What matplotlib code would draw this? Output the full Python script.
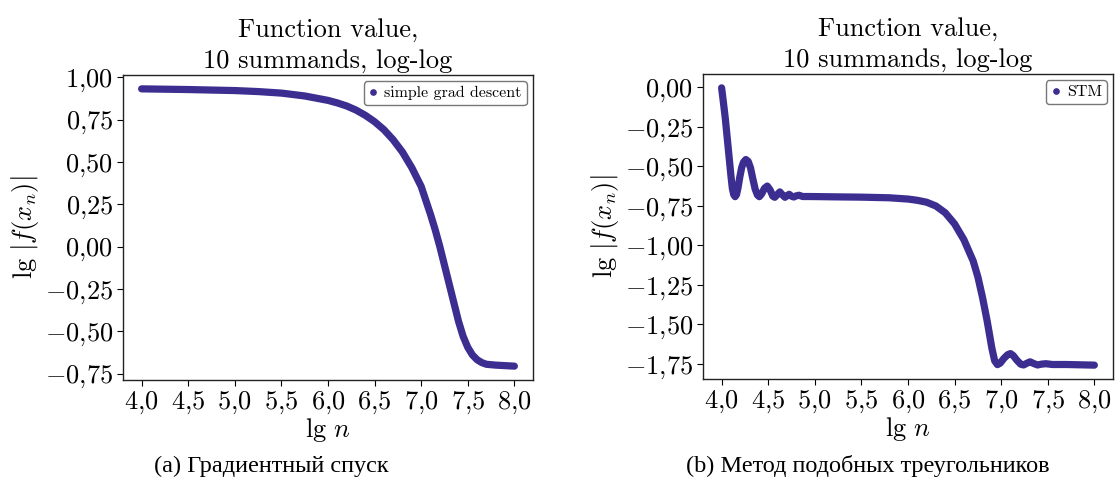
import numpy as np
import matplotlib
matplotlib.use("Agg")
import matplotlib.pyplot as plt
from matplotlib.lines import Line2D
from matplotlib.ticker import FuncFormatter

plt.rcParams['mathtext.fontset'] = 'cm'
plt.rcParams['font.family'] = ['cmr10', 'DejaVu Serif']
plt.rcParams['axes.formatter.use_mathtext'] = True

# gradient descent: lg n vs lg |f(x_n)|
gd_lgn = [4.00, 4.50, 5.00, 5.25, 5.50, 5.75, 6.00, 6.10, 6.20, 6.30, 6.40,
          6.50, 6.60, 6.70, 6.80, 6.90, 7.00, 7.10, 7.15, 7.20, 7.25, 7.30,
          7.35, 7.40, 7.45, 7.50, 7.55, 7.60, 7.65, 7.70, 7.80, 7.90, 8.00]
gd_lgf = [0.931, 0.927, 0.921, 0.915, 0.906, 0.889, 0.863, 0.848, 0.830, 0.806, 0.775,
          0.737, 0.690, 0.630, 0.557, 0.465, 0.355, 0.190, 0.100, 0.000, -0.110, -0.220,
          -0.330, -0.440, -0.530, -0.595, -0.640, -0.668, -0.685, -0.695, -0.700, -0.703, -0.706]

# similar triangles method (STM)
stm_lgn = [4.000, 4.020, 4.040, 4.060, 4.080, 4.100, 4.115, 4.130, 4.145, 4.160,
           4.175, 4.195, 4.215, 4.235, 4.260, 4.285, 4.310, 4.335, 4.360, 4.385,
           4.405, 4.430, 4.460, 4.490, 4.520, 4.550, 4.570, 4.600, 4.625, 4.650,
           4.680, 4.705, 4.725, 4.750, 4.775, 4.800, 4.830, 4.870, 4.950, 5.20,
           5.50, 5.80, 6.00, 6.10, 6.20, 6.30, 6.40, 6.50, 6.60, 6.70, 6.75,
           6.80, 6.85, 6.90, 6.93, 6.96, 6.99, 7.03, 7.07, 7.10, 7.13, 7.17,
           7.21, 7.24, 7.28, 7.31, 7.35, 7.39, 7.43, 7.48, 7.55, 7.70, 8.00]
stm_lgf = [-0.005, -0.100, -0.200, -0.320, -0.440, -0.560, -0.640, -0.680, -0.693, -0.680,
           -0.640, -0.570, -0.510, -0.475, -0.458, -0.470, -0.510, -0.580, -0.645, -0.683,
           -0.693, -0.675, -0.640, -0.626, -0.650, -0.690, -0.697, -0.678, -0.663, -0.680,
           -0.697, -0.686, -0.678, -0.690, -0.695, -0.688, -0.684, -0.692, -0.692, -0.694,
           -0.696, -0.700, -0.708, -0.716, -0.728, -0.752, -0.795, -0.865, -0.965, -1.100, -1.200,
           -1.330, -1.480, -1.650, -1.730, -1.755, -1.745, -1.715, -1.692, -1.685, -1.698, -1.728,
           -1.752, -1.757, -1.745, -1.737, -1.748, -1.757, -1.752, -1.749, -1.754, -1.754, -1.758]

color = '#3b2e90'
title = 'Function value,\n10 summands, log-log'


def comma_fmt(v, pos):
    return '$' + ('%.1f' % v).replace('.', '{,}') + '$'


def comma_fmt2(v, pos):
    return '$' + ('%.2f' % v).replace('.', '{,}') + '$'


fig = plt.figure(figsize=(11.16, 4.82), dpi=100)
ax1 = fig.add_axes([0.1102, 0.2116, 0.3674, 0.6328])
ax2 = fig.add_axes([0.6299, 0.2137, 0.3674, 0.6328])

panels = [
    (ax1, gd_lgn, gd_lgf, 'simple grad descent', [1.0, 0.75, 0.5, 0.25, 0.0, -0.25, -0.5, -0.75]),
    (ax2, stm_lgn, stm_lgf, 'STM', [0.0, -0.25, -0.5, -0.75, -1.0, -1.25, -1.5, -1.75]),
]

for ax, xs, ys, lab, yt in panels:
    ax.plot(xs, ys, '-', color=color, lw=5.2, solid_capstyle='round',
            solid_joinstyle='round')
    ax.set_xticks([4.0, 4.5, 5.0, 5.5, 6.0, 6.5, 7.0, 7.5, 8.0])
    ax.set_yticks(yt)
    ax.xaxis.set_major_formatter(FuncFormatter(comma_fmt))
    ax.yaxis.set_major_formatter(FuncFormatter(comma_fmt2))
    ax.tick_params(labelsize=19, length=4, width=0.8, direction='out', pad=3)
    ax.set_title(title, fontsize=19, pad=5, linespacing=1.4)
    ax.set_xlabel(r'$\lg\, n$', fontsize=19, labelpad=0)
    ax.set_ylabel(r'$\lg\,\left|f(x_n)\right|$', fontsize=19, labelpad=3)
    for s in ax.spines.values():
        s.set_linewidth(1.0)
        s.set_color('#222222')
    handle = Line2D([], [], marker='o', ls='', color=color, markersize=3.8)
    ax.legend([handle], [lab], loc='upper right', fontsize=11.5,
              handlelength=0.6, handletextpad=0.4, borderpad=0.3,
              fancybox=True, edgecolor='#777777', framealpha=1.0,
              borderaxespad=0.4)

fig.text(0.243, 0.02, '(a) Градиентный спуск', fontsize=17.5,
         family=['Liberation Serif'], ha='center')
fig.text(0.778, 0.02, '(b) Метод подобных треугольников', fontsize=17.5,
         family=['Liberation Serif'], ha='center')

fig.savefig('out.png', dpi=100)
